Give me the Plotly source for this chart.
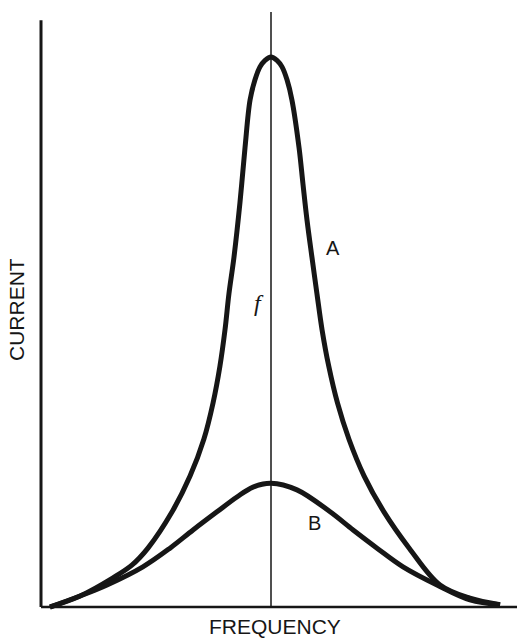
import plotly.graph_objects as go

# Frequency offset from resonance (arbitrary units), current (A peak = 100)
a_freq = [-9.61, -8.30, -6.87, -6.05, -5.35, -4.30, -3.52, -2.92, -2.52, -2.22, -2.00, -1.83,
          -1.61, -1.35, -1.13, -0.91, -0.70, -0.48, -0.26, 0.0, 0.26, 0.48, 0.70, 0.91,
          1.22, 1.39, 1.57, 1.78, 2.00, 2.22, 2.51, 2.89, 3.39, 4.05, 4.91, 6.01, 7.35,
          8.65, 9.96]
a_curr = [0.0, 2.0, 5.3, 7.6, 10.7, 17.3, 23.8, 30.5, 37.1, 43.8, 50.4, 56.9,
          63.6, 73.5, 83.5, 92.2, 95.8, 98.2, 99.4, 100.0, 99.4, 98.2, 95.8, 92.2,
          83.5, 76.9, 70.2, 63.6, 56.9, 50.4, 43.8, 37.1, 30.5, 23.8, 17.3, 10.7, 4.0,
          1.6, 0.4]

b_freq = [-9.61, -8.30, -7.13, -5.57, -4.39, -3.39, -2.35, -1.48, -0.78, 0.0,
          1.13, 2.57, 3.57, 4.61, 5.74, 7.22, 8.65, 9.96]
b_curr = [0.0, 2.0, 4.0, 7.3, 10.7, 14.0, 17.3, 20.0, 21.8, 22.5,
          21.3, 17.3, 14.0, 10.7, 7.3, 4.0, 1.3, 0.4]

x_range = [-11.783, 10.696]
y_range = [-6.364, 110.364]
axis_left = -10.0
axis_top = 106.7
center_top = 108.2

INK = "#161616"

fig = go.Figure()
fig.add_trace(go.Scatter(x=a_freq, y=a_curr, mode="lines",
                         line=dict(color=INK, width=5, shape="spline", smoothing=1.0),
                         hoverinfo="skip", showlegend=False))
fig.add_trace(go.Scatter(x=b_freq, y=b_curr, mode="lines",
                         line=dict(color=INK, width=5, shape="spline", smoothing=1.0),
                         hoverinfo="skip", showlegend=False))

# axes and resonance line
fig.add_shape(type="line", x0=axis_left, x1=x_range[1], y0=0, y1=0,
              line=dict(color=INK, width=2.5))
fig.add_shape(type="line", x0=axis_left, x1=axis_left, y0=0, y1=axis_top,
              line=dict(color=INK, width=3))
fig.add_shape(type="line", x0=0, x1=0, y0=0, y1=center_top,
              line=dict(color=INK, width=1.5))

font = dict(family="Liberation Sans, Arial, sans-serif", size=21, color=INK)
fig.add_annotation(text="CURRENT", x=17/517, y=1-310/642, xref="paper", yref="paper",
                   xanchor="center", yanchor="middle",
                   showarrow=False, textangle=-90, font=font)
fig.add_annotation(text="FREQUENCY", x=275/517, y=1-626/642, xref="paper", yref="paper",
                   xanchor="center", yanchor="middle",
                   showarrow=False, font=font)
fig.add_annotation(text="A", x=333/517, y=1-248/642, xref="paper", yref="paper",
                   xanchor="center", yanchor="middle",
                   showarrow=False, font=dict(family="Liberation Sans, Arial", size=20, color=INK))
fig.add_annotation(text="B", x=314/517, y=1-523/642, xref="paper", yref="paper",
                   xanchor="center", yanchor="middle",
                   showarrow=False, font=dict(family="Liberation Sans, Arial", size=20, color=INK))
fig.add_annotation(text="<i>f</i>", x=259/517, y=1-303/642, xref="paper", yref="paper",
                   xanchor="center", yanchor="middle",
                   showarrow=False, font=dict(family="Liberation Serif, serif", size=24, color=INK))

fig.update_layout(width=517, height=642, margin=dict(l=0, r=0, t=0, b=0),
                  paper_bgcolor="white", plot_bgcolor="white",
                  xaxis=dict(range=x_range, visible=False, fixedrange=True),
                  yaxis=dict(range=y_range, visible=False, fixedrange=True))

fig.write_html("out.html", config={"displayModeBar": False},
               post_script="document.body.style.margin='0';")
